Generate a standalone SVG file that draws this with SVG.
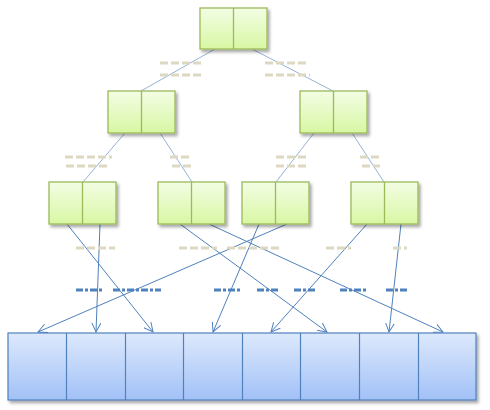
<svg xmlns="http://www.w3.org/2000/svg" width="490" height="410" viewBox="0 0 490 410">
<style>
.g{fill:url(#gg);stroke:#9bbb59;stroke-width:1.3}
.gd{stroke:#9bbb59;stroke-width:1.3}
.b{fill:url(#bg);stroke:#4f81bd;stroke-width:1.2}
.bd{stroke:#4f81bd;stroke-width:1.2}
.e{stroke:#95b3d7;stroke-width:1;fill:none}
.a{stroke:#4f81bd;stroke-width:1;fill:none;marker-end:url(#ar)}
.t{stroke:#ddd8c2;stroke-width:3;stroke-dasharray:8 3;fill:none}
.u{stroke:#4f81bd;stroke-width:3;stroke-dasharray:7 2 3 2;fill:none}
</style>
<defs>
<linearGradient id="gg" x1="0" y1="0" x2="0" y2="1"><stop offset="0" stop-color="#f3fde4"/><stop offset="1" stop-color="#d8f7a3"/></linearGradient>
<linearGradient id="bg" x1="0" y1="0" x2="0" y2="1"><stop offset="0" stop-color="#dde9fc"/><stop offset="1" stop-color="#a2c1f7"/></linearGradient>
<filter id="sh" x="-10%" y="-10%" width="130%" height="140%"><feDropShadow dx="2" dy="2.5" stdDeviation="1.5" flood-color="#000" flood-opacity="0.35"/></filter>
<marker id="ar" markerWidth="12" markerHeight="12" refX="9" refY="5" orient="auto" markerUnits="userSpaceOnUse"><path d="M0,0.5 L9,5 L0,9.5" fill="none" stroke="#4f81bd" stroke-width="1"/></marker>
</defs>
<g id="connectors">
<line class="e" x1="215" y1="49" x2="141" y2="91"/>
<line class="e" x1="252" y1="49" x2="333" y2="91"/>
<line class="e" x1="125" y1="133" x2="83" y2="182"/>
<line class="e" x1="160" y1="133" x2="192" y2="182"/>
<line class="e" x1="314" y1="133" x2="276" y2="182"/>
<line class="e" x1="352" y1="133" x2="384" y2="182"/>
<line class="a" x1="67" y1="224" x2="153" y2="332"/>
<line class="a" x1="100" y1="224" x2="96" y2="332"/>
<line class="a" x1="180" y1="224" x2="327" y2="332"/>
<line class="a" x1="209" y1="224" x2="443" y2="332"/>
<line class="a" x1="259" y1="224" x2="213" y2="332"/>
<line class="a" x1="287" y1="224" x2="38" y2="332"/>
<line class="a" x1="367" y1="224" x2="271" y2="332"/>
<line class="a" x1="401" y1="224" x2="389" y2="332"/>
</g>
<g id="labels">
<line class="t" x1="160" y1="63" x2="203" y2="63"/>
<line class="t" x1="160" y1="75" x2="204" y2="75"/>
<line class="t" x1="265" y1="63" x2="308" y2="63"/>
<line class="t" x1="265" y1="75" x2="310" y2="75"/>
<line class="t" x1="65" y1="157" x2="112" y2="157"/>
<line class="t" x1="66" y1="166" x2="110" y2="166"/>
<line class="t" x1="170" y1="157" x2="191" y2="157"/>
<line class="t" x1="172" y1="166" x2="192" y2="166"/>
<line class="t" x1="276" y1="157" x2="308" y2="157"/>
<line class="t" x1="276" y1="166" x2="308" y2="166"/>
<line class="t" x1="360" y1="157" x2="380" y2="157"/>
<line class="t" x1="362" y1="166" x2="380" y2="166"/>
<line class="t" x1="76" y1="248" x2="115" y2="248"/>
<line class="t" x1="179" y1="248" x2="217" y2="248"/>
<line class="t" x1="227" y1="248" x2="280" y2="248"/>
<line class="t" x1="326" y1="248" x2="351" y2="248"/>
<line class="t" x1="393" y1="248" x2="407" y2="248"/>
<line class="u" x1="76" y1="290" x2="103" y2="290"/>
<line class="u" x1="113" y1="290" x2="161" y2="290"/>
<line class="u" x1="214" y1="290" x2="240" y2="290"/>
<line class="u" x1="257" y1="290" x2="280" y2="290"/>
<line class="u" x1="294" y1="290" x2="316" y2="290"/>
<line class="u" x1="340" y1="290" x2="366" y2="290"/>
<line class="u" x1="386" y1="290" x2="408" y2="290"/>
</g>
<g id="root" filter="url(#sh)"><rect class="g" x="200" y="8" width="67" height="41"/><line class="gd" x1="233.5" y1="8" x2="233.5" y2="49"/></g>
<g id="n2a" filter="url(#sh)"><rect class="g" x="108" y="91" width="67" height="42"/><line class="gd" x1="141.5" y1="91" x2="141.5" y2="133"/></g>
<g id="n2b" filter="url(#sh)"><rect class="g" x="300" y="91" width="67" height="42"/><line class="gd" x1="333.5" y1="91" x2="333.5" y2="133"/></g>
<g id="n3a" filter="url(#sh)"><rect class="g" x="49" y="182" width="67" height="42"/><line class="gd" x1="82.5" y1="182" x2="82.5" y2="224"/></g>
<g id="n3b" filter="url(#sh)"><rect class="g" x="158" y="182" width="67" height="42"/><line class="gd" x1="191.5" y1="182" x2="191.5" y2="224"/></g>
<g id="n3c" filter="url(#sh)"><rect class="g" x="242" y="182" width="67" height="42"/><line class="gd" x1="275.5" y1="182" x2="275.5" y2="224"/></g>
<g id="n3d" filter="url(#sh)"><rect class="g" x="351" y="182" width="67" height="42"/><line class="gd" x1="384.5" y1="182" x2="384.5" y2="224"/></g>
<g id="array" filter="url(#sh)">
<rect class="b" x="8" y="333" width="468" height="67"/>
<line class="bd" x1="66.5" y1="333" x2="66.5" y2="400"/>
<line class="bd" x1="125.5" y1="333" x2="125.5" y2="400"/>
<line class="bd" x1="183.5" y1="333" x2="183.5" y2="400"/>
<line class="bd" x1="242.5" y1="333" x2="242.5" y2="400"/>
<line class="bd" x1="300.5" y1="333" x2="300.5" y2="400"/>
<line class="bd" x1="359.5" y1="333" x2="359.5" y2="400"/>
<line class="bd" x1="418.5" y1="333" x2="418.5" y2="400"/>
</g>
</svg>
